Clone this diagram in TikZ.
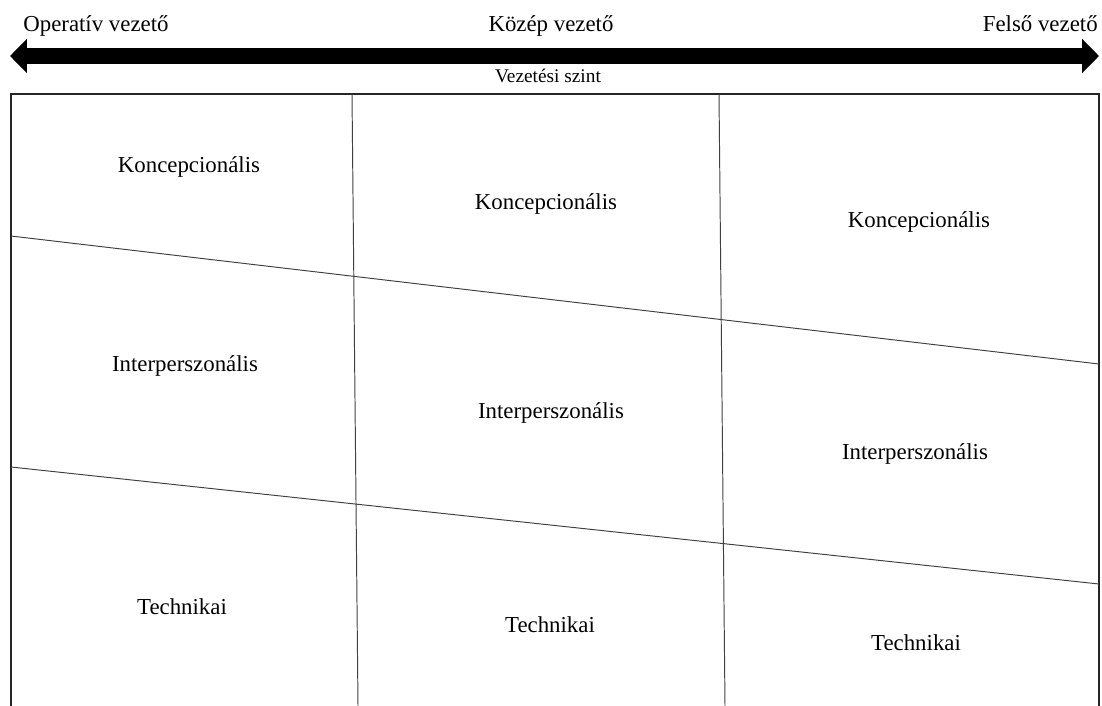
\documentclass[tikz,border=0pt]{standalone}
\usepackage{fontspec}
\setmainfont{Liberation Serif}
\usetikzlibrary{arrows.meta,positioning}
\tikzset{
  % Cell text
  ctext/.style={font=\fontsize{13}{15}\selectfont,inner sep=0pt},
  % Level labels above the arrow
  ltext/.style={font=\fontsize{13}{15}\selectfont,inner sep=0pt,anchor=base},
  % Axis caption
  atext/.style={font=\fontsize{11}{13}\selectfont,inner sep=0pt,anchor=base},
  % Thick level arrow
  larr/.style={{Triangle[length=0.34cm,width=0.67cm]}-{Triangle[length=0.34cm,width=0.67cm]},
    line width=9.3pt},
  % Frame and dividers
  gridframe/.style={line width=0.8pt,color=black!85},
  divl/.style={line width=0.55pt,color=black!75},
}
\begin{document}
\begin{tikzpicture}[x=0.02cm,y=-0.02cm]
  \useasboundingbox (0,0) rectangle (1102,706);

  % Level arrow
  \coordinate (aL) at (10,56);
  \coordinate (aR) at (1099,56);
  \draw[larr] (aL) -- (aR);
  \node[ltext,anchor=base west] (op) at (23,32) {Operatív vezető};
  \node[ltext] (kv) at (551,32) {Közép vezető};
  \node[ltext,anchor=base east] (fv) at (1098,32) {Felső vezető};
  \node[atext] (vsz) at (548,83) {Vezetési szint};

  % Frame (open at the bottom)
  \coordinate (fTL) at (11,94);
  \coordinate (fTR) at (1099,94);
  \coordinate (fBL) at (11,706);
  \coordinate (fBR) at (1099,706);
  \draw[gridframe] (fBL) -- (fTL) -- (fTR) -- (fBR);

  % Column dividers
  \coordinate (v1t) at (352,94);
  \coordinate (v1b) at (358,706);
  \coordinate (v2t) at (719,94);
  \coordinate (v2b) at (725,706);
  \draw[divl] (v1t) -- (v1b);
  \draw[divl] (v2t) -- (v2b);

  % Row dividers
  \coordinate (h1l) at (11,236);
  \coordinate (h1r) at (1099,364);
  \coordinate (h2l) at (11,467);
  \coordinate (h2r) at (1099,584);
  \draw[divl] (h1l) -- (h1r);
  \draw[divl] (h2l) -- (h2r);

  % Cells
  \node[ctext] (k1) at (189,167) {Koncepcionális};
  \node[ctext] (k2) at (546,204) {Koncepcionális};
  \node[ctext] (k3) at (919,222) {Koncepcionális};
  \node[ctext] (i1) at (185,366) {Interperszonális};
  \node[ctext] (i2) at (551,413) {Interperszonális};
  \node[ctext] (i3) at (915,454) {Interperszonális};
  \node[ctext] (t1) at (182,607) {Technikai};
  \node[ctext] (t2) at (550,625) {Technikai};
  \node[ctext] (t3) at (916,643) {Technikai};
\end{tikzpicture}
\end{document}
